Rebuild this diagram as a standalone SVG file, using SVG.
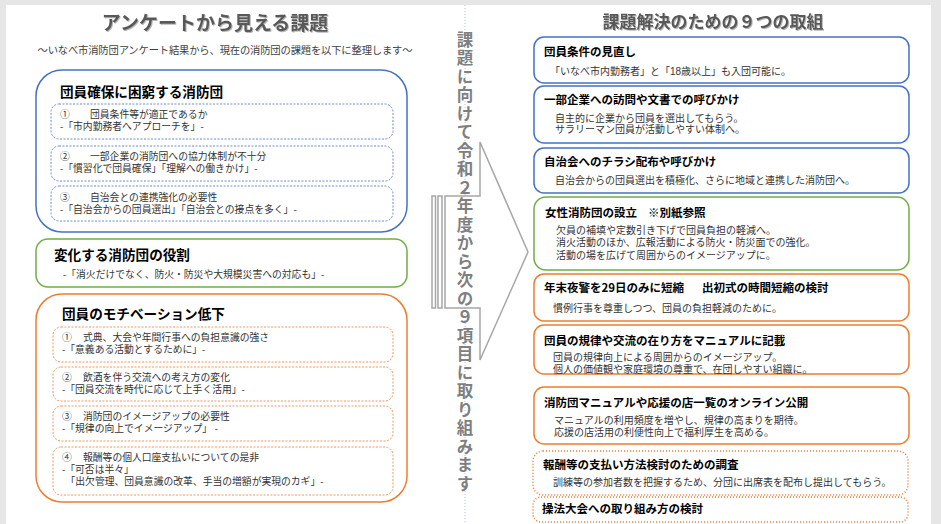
<svg xmlns="http://www.w3.org/2000/svg" width="941" height="524" viewBox="0 0 941 524">
<defs>
<filter id="shadow" x="-5%" y="-20%" width="110%" height="150%">
<feDropShadow dx="1" dy="1" stdDeviation="0.6" flood-color="#b0b0b0" flood-opacity="0.9"/>
</filter>
</defs>
<style>
text{font-family:"Noto Sans CJK JP","Noto Sans",sans-serif;}
.h1{font-size:19px;font-weight:700;fill:#595959;filter:url(#shadow);}
.sub{font-size:10.3px;fill:#404040;}
.bt{font-size:13.6px;font-weight:700;fill:#000;}
.it{font-family:"Liberation Sans","Noto Sans CJK JP",sans-serif;font-size:9.8px;fill:#333;}
.rt{font-size:11.5px;font-weight:700;fill:#000;}
.rx{font-family:"Liberation Sans","Noto Sans CJK JP",sans-serif;font-size:10px;fill:#333;}
.vt{font-size:16.5px;font-weight:700;fill:#7f7f7f;}
.blue{fill:#fff;stroke:#4472c4;stroke-width:1.5;}
.green{fill:#fff;stroke:#70ad47;stroke-width:1.5;}
.orange{fill:#fff;stroke:#ed7d31;stroke-width:1.5;}
.bdash{fill:#fff;stroke:#4472c4;stroke-width:0.8;stroke-dasharray:2 1.5;}
.odash{fill:#fff;stroke:#ed7d31;stroke-width:0.8;stroke-dasharray:2 1.5;}
.odot{fill:#fff;stroke:#ed7d31;stroke-width:1.5;stroke-dasharray:1 2;}
.arr{fill:#fff;stroke:#a6a6a6;stroke-width:1.5;}
</style>
<rect x="0" y="0" width="941" height="524" fill="#e6e6e6"/>
<rect x="6" y="5" width="925" height="519" fill="#fff"/>
<line x1="465" y1="5" x2="465" y2="524" stroke="#a9c0e8" stroke-width="1" stroke-dasharray="1 2"/>

<g id="left-header">
<text class="h1" x="215" y="30" text-anchor="middle">アンケートから見える課題</text>
<text class="sub" x="225" y="54" text-anchor="middle" textLength="375">〜いなべ市消防団アンケート結果から、現在の消防団の課題を以下に整理します〜</text>
</g>

<g id="group-recruit">
<rect class="blue" x="36" y="70" width="371" height="162" rx="26"/>
<text class="bt" x="60" y="97">団員確保に困窮する消防団</text>
<g id="recruit-1">
<rect class="bdash" x="51" y="104" width="342" height="35" rx="8"/>
<text class="it" x="60" y="118">①<tspan x="90">団員条件等が適正であるか</tspan><tspan x="60" y="130">-「市内勤務者へアプローチを」-</tspan></text>
</g>
<g id="recruit-2">
<rect class="bdash" x="51" y="146" width="342" height="35" rx="8"/>
<text class="it" x="60" y="159.5">②<tspan x="90">一部企業の消防団への協力体制が不十分</tspan><tspan x="60" y="171.5">-「慣習化で団員確保」「理解への働きかけ」-</tspan></text>
</g>
<g id="recruit-3">
<rect class="bdash" x="51" y="186" width="342" height="35" rx="8"/>
<text class="it" x="60" y="201">③<tspan x="90">自治会との連携強化の必要性</tspan><tspan x="60" y="213">-「自治会からの団員選出」「自治会との接点を多く」-</tspan></text>
</g>
</g>

<g id="group-role">
<rect class="green" x="36" y="239" width="371" height="48" rx="12"/>
<text class="bt" x="54" y="260">変化する消防団の役割</text>
<text class="it" x="63" y="278">-「消火だけでなく、防火・防災や大規模災害への対応も」-</text>
</g>

<g id="group-motivation">
<rect class="orange" x="36" y="294" width="371" height="208" rx="26"/>
<text class="bt" x="62" y="318.5">団員のモチベーション低下</text>
<g id="motivation-1">
<rect class="odash" x="53" y="327" width="340" height="35" rx="8"/>
<text class="it" x="62" y="341">①<tspan x="83">式典、大会や年間行事への負担意識の強さ</tspan><tspan x="62" y="353">-「意義ある活動とするために」-</tspan></text>
</g>
<g id="motivation-2">
<rect class="odash" x="53" y="367" width="340" height="34" rx="8"/>
<text class="it" x="62" y="381">②<tspan x="83">飲酒を伴う交流への考え方の変化</tspan><tspan x="62" y="393">-「団員交流を時代に応じて上手く活用」-</tspan></text>
</g>
<g id="motivation-3">
<rect class="odash" x="53" y="406" width="340" height="35" rx="8"/>
<text class="it" x="62" y="420">③<tspan x="83">消防団のイメージアップの必要性</tspan><tspan x="62" y="432">-「規律の向上でイメージアップ」 -</tspan></text>
</g>
<g id="motivation-4">
<rect class="odash" x="53" y="447" width="340" height="48" rx="8"/>
<text class="it" x="62" y="461">④<tspan x="83">報酬等の個人口座支払いについての是非</tspan><tspan x="62" y="473">-「可否は半々」</tspan><tspan x="65.5" y="485">「出欠管理、団員意識の改革、手当の増額が実現のカギ」-</tspan></text>
</g>
</g>

<g id="arrow">
<rect class="arr" x="432" y="196" width="3.5" height="112"/>
<rect class="arr" x="438" y="196" width="4" height="112"/>
<polygon class="arr" points="445,196 480,196 480,142 528,252 480,360 480,308 445,308"/>
<text class="vt" x="465" y="31" writing-mode="vertical-rl" letter-spacing="2">課題に向けて令和２年度から次の９項目に取り組みます</text>
</g>

<g id="right-header">
<text class="h1" x="713" y="28" text-anchor="middle" style="font-size:17px">課題解決のための９つの取組</text>
</g>

<g id="measure-1">
<rect class="blue" x="534" y="37" width="375" height="46" rx="10"/>
<text class="rt" x="544" y="56">団員条件の見直し</text>
<text class="rx" x="550" y="75">「いなべ市内勤務者」と「18歳以上」も入団可能に。</text>
</g>
<g id="measure-2">
<rect class="blue" x="534" y="86" width="375" height="57" rx="10"/>
<text class="rt" x="544" y="104">一部企業への訪問や文書での呼びかけ</text>
<text class="rx" x="555" y="122">自主的に企業から団員を選出してもらう。<tspan x="555" y="132.5">サラリーマン団員が活動しやすい体制へ。</tspan></text>
</g>
<g id="measure-3">
<rect class="blue" x="534" y="148" width="375" height="45" rx="10"/>
<text class="rt" x="544" y="166">自治会へのチラシ配布や呼びかけ</text>
<text class="rx" x="555" y="184">自治会からの団員選出を積極化、さらに地域と連携した消防団へ。</text>
</g>
<g id="measure-4">
<rect class="green" x="534" y="197" width="375" height="73" rx="12"/>
<text class="rt" x="545" y="217">女性消防団の設立<tspan x="648">※別紙参照</tspan></text>
<text class="rx" x="556" y="234">欠員の補填や定数引き下げで団員負担の軽減へ。<tspan x="556" y="246">消火活動のほか、広報活動による防火・防災面での強化。</tspan><tspan x="556" y="259">活動の場を広げて周囲からのイメージアップに。</tspan></text>
</g>
<g id="measure-5">
<rect class="orange" x="534" y="274" width="375" height="47" rx="10"/>
<text class="rt" x="544" y="292">年末夜警を29日のみに短縮<tspan x="702">出初式の時間短縮の検討</tspan></text>
<text class="rx" x="553" y="312">慣例行事を尊重しつつ、団員の負担軽減のために。</text>
</g>
<g id="measure-6">
<rect class="orange" x="534" y="325" width="375" height="49" rx="10"/>
<text class="rt" x="544" y="344.5">団員の規律や交流の在り方をマニュアルに記載</text>
<text class="rx" x="553" y="361">団員の規律向上による周囲からのイメージアップ。<tspan x="553" y="373">個人の価値観や家庭環境の尊重で、在団しやすい組織に。</tspan></text>
</g>
<g id="measure-7">
<rect class="orange" x="534" y="387" width="375" height="57" rx="10"/>
<text class="rt" x="544" y="407">消防団マニュアルや応援の店一覧のオンライン公開</text>
<text class="rx" x="554" y="424">マニュアルの利用頻度を増やし、規律の高まりを期待。<tspan x="554" y="436">応援の店活用の利便性向上で福利厚生を高める。</tspan></text>
</g>
<g id="measure-8">
<rect class="odot" x="533" y="451" width="375" height="44" rx="10"/>
<text class="rt" x="543" y="468.5">報酬等の支払い方法検討のための調査</text>
<text class="rx" x="553" y="485.5">訓練等の参加者数を把握するため、分団に出席表を配布し提出してもらう。</text>
</g>
<g id="measure-9">
<rect class="odot" x="533" y="497" width="375" height="25" rx="8"/>
<text class="rt" x="542" y="513">操法大会への取り組み方の検討</text>
</g>
</svg>
